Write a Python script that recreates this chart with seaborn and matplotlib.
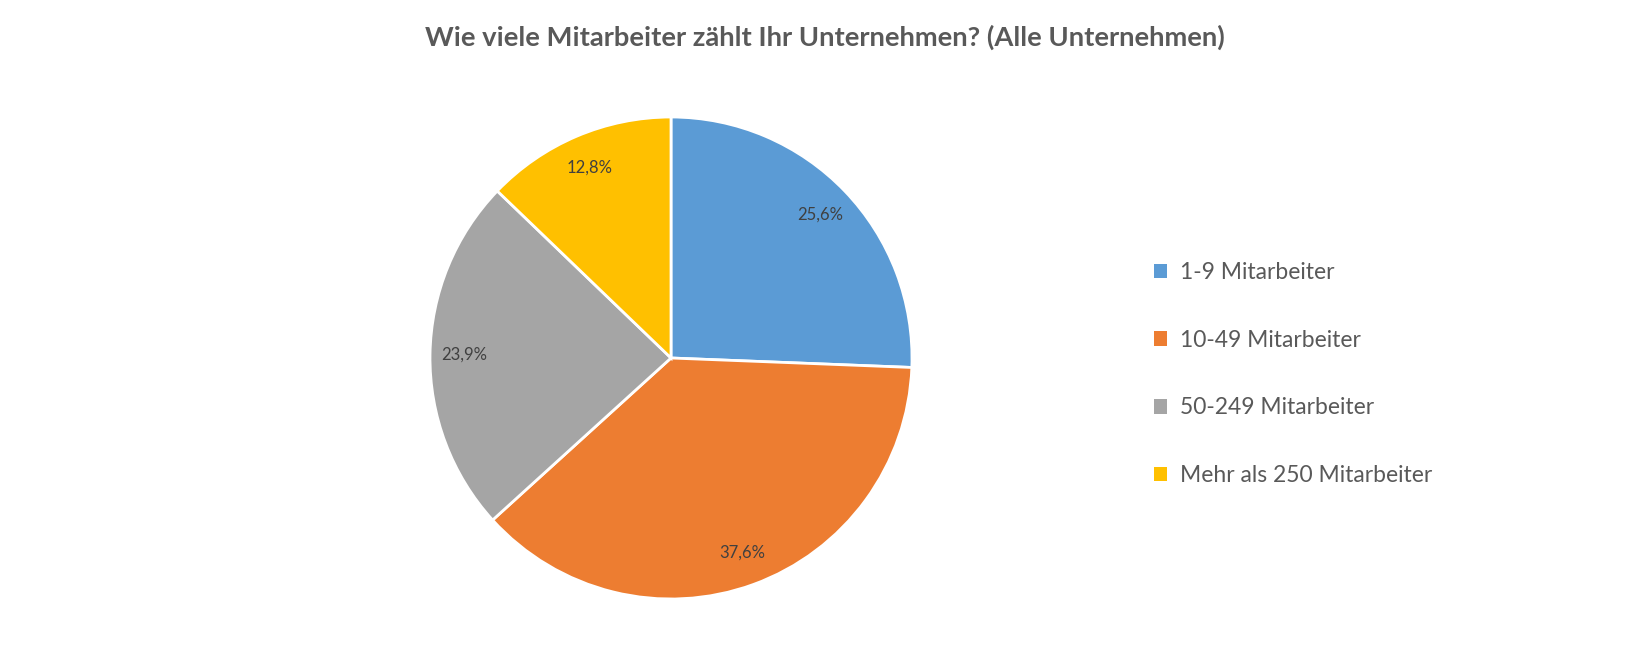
import matplotlib
matplotlib.use("Agg")
import matplotlib.pyplot as plt
import seaborn as sns
from matplotlib.patches import Patch

# Daten
kategorien = ['1-9 Mitarbeiter', '10-49 Mitarbeiter', '50-249 Mitarbeiter', 'Mehr als 250 Mitarbeiter']
anteile = [25.6, 37.6, 23.9, 12.8]
farben = ['#5B9BD5', '#ED7D31', '#A5A5A5', '#FFC000']
titel = "Wie viele Mitarbeiter zählt Ihr Unternehmen? (Alle Unternehmen)"

sns.set_theme(style="white")
plt.rcParams['font.family'] = ['Lato', 'DejaVu Sans']

fig = plt.figure(figsize=(16.5, 6.6), dpi=100)
fig.patch.set_facecolor('white')

# Tortendiagramm: Mittelpunkt (671, 358) px, Radius 241 px
r_px = 241
cx, cy = 671, 660 - 358
ax = fig.add_axes([(cx - r_px) / 1650, (cy - r_px) / 660, 2 * r_px / 1650, 2 * r_px / 660])

palette = sns.color_palette(farben)
wedges, texts, autotexts = ax.pie(
    anteile,
    colors=palette,
    startangle=90,
    counterclock=False,
    autopct=lambda p: f"{p:.1f}%".replace('.', ','),
    pctdistance=0.86,
    wedgeprops=dict(edgecolor='white', linewidth=2),
    textprops=dict(color='#404040', fontsize=12),
)
ax.set_xlim(-1, 1)
ax.set_ylim(-1, 1)
ax.set_aspect('equal')

fig.suptitle(titel, x=0.5, y=1 - 37 / 660, va='center', fontsize=19.7,
             fontweight='bold', color='#595959')

handles = [Patch(facecolor=c, edgecolor='none') for c in palette]
fig.legend(handles, kategorien, loc='center left',
           bbox_to_anchor=(1133 / 1650, 1 - 374 / 660),
           frameon=False, fontsize=16.5, labelcolor='#595959',
           handlelength=0.6, handleheight=0.6, handletextpad=0.55,
           labelspacing=2.04)

fig.savefig('out.png', dpi=100, facecolor='white')
